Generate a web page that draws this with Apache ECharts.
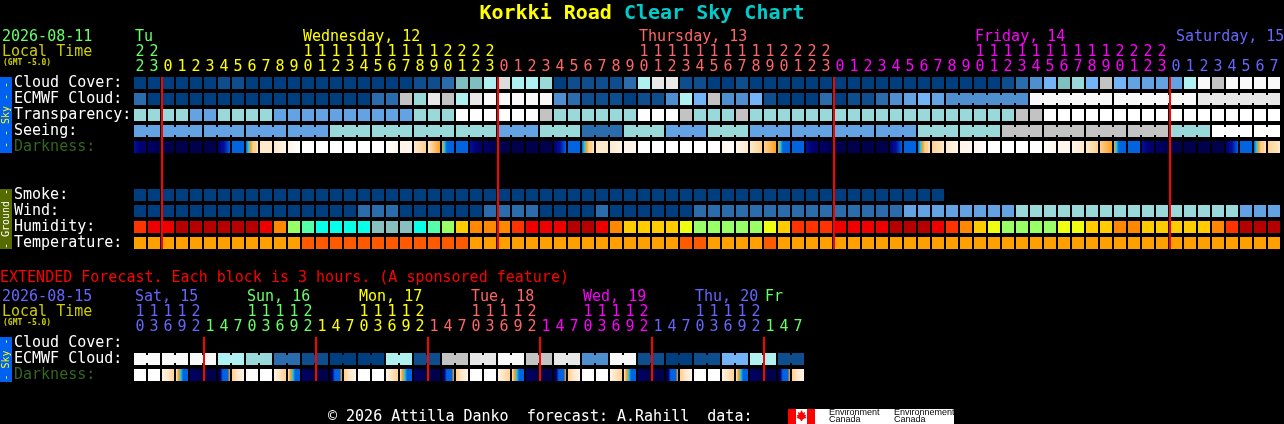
<!DOCTYPE html>
<html>
<head>
<meta charset="utf-8">
<style>html,body{margin:0;padding:0;background:#000;overflow:hidden}#chart{width:1284px;height:424px}</style>
<script src="https://cdn.jsdelivr.net/npm/echarts@6/dist/echarts.min.js"></script>
</head>
<body>
<div id="chart"></div>
<script>
// ---------- data ----------
const hours = [22,23,
 0,1,2,3,4,5,6,7,8,9,10,11,12,13,14,15,16,17,18,19,20,21,22,23,
 0,1,2,3,4,5,6,7,8,9,10,11,12,13,14,15,16,17,18,19,20,21,22,23,
 0,1,2,3,4,5,6,7,8,9,10,11,12,13,14,15,16,17,18,19,20,21,22,23,
 0,1,2,3,4,5,6,7];
const extHours = [10,13,16,19,22,
 1,4,7,10,13,16,19,22, 1,4,7,10,13,16,19,22, 1,4,7,10,13,16,19,22,
 1,4,7,10,13,16,19,22, 1,4,7,10,13,16,19,22, 1,4,7];
const rowNames = ['Cloud Cover:','ECMWF Cloud:','Transparency:','Seeing:','Darkness:','','','Smoke:','Wind:','Humidity:','Temperature:'];
const extRowNames = ['Cloud Cover:','ECMWF Cloud:','Darkness:'];
const dayNames = ['Tu','Wednesday, 12','Thursday, 13','Friday, 14','Saturday, 15'];
const dayCells = [0,12,36,60,74];
const extDayNames = ['Sat, 15','Sun, 16','Mon, 17','Tue, 18','Wed, 19','Thu, 20','Fr'];
const extDayCells = [0,8,16,24,32,40,45];
const midnightCells = [2,26,50,74];
const extMidnightCells = [5,13,21,29,37,45];

const cloudCover = [0,0,0,0,0,0,1,1,0,0,0,0,0,0,0,0,0,0,0,0,1,1,2,6,6,8,10,8,8,7,0,1,1,1,1,2,8,11,11,1,1,0,0,1,0,0,0,0,0,0,0,0,0,0,0,0,0,0,0,0,0,0,1,2,3,5,6,7,5,9,5,4,4,4,4,8,12,9,12,12,12,12];
const ecmwfCloud = [2,0,0,0,0,0,0,0,0,0,0,0,0,0,0,0,0,2,2,9,7,11,9,8,11,12,12,12,12,12,3,2,1,1,1,0,1,1,3,8,5,9,3,3,5,1,0,0,0,2,0,1,1,2,3,4,5,4,3,3,3,3,3,3,12,12,12,12,12,12,12,12,12,12,12,12,11,11,11,11,11,11];
const transparency = [7,7,7,7,4,4,7,7,7,7,4,4,4,4,4,4,4,4,4,4,7,7,7,13,13,13,13,13,13,9,7,7,7,7,7,7,13,13,13,9,7,7,7,9,7,7,7,7,7,7,7,7,7,7,7,7,7,7,7,7,7,7,7,9,9,13,13,13,13,13,13,13,13,13,13,13,13,13,13,13,13,13];
const seeing = [4,4,4,4,4,4,4,4,4,4,4,4,4,4,7,7,7,7,7,7,7,7,7,7,7,7,4,4,4,7,7,7,2,2,2,7,7,7,4,4,4,7,7,7,4,4,4,4,4,4,4,4,4,4,4,4,7,7,7,7,7,7,9,9,9,9,9,9,9,9,9,9,9,9,7,7,7,13,13,13,13,13];
const smoke = [0,0,0,0,0,0,0,0,0,0,0,0,0,0,0,0,0,0,0,0,0,0,0,0,0,0,0,0,0,0,0,0,0,0,0,0,0,0,0,0,0,0,0,0,0,0,0,0,0,0,0,0,0,0,0,0,0,0];
const wind = [0,0,0,0,0,0,0,0,0,0,0,0,0,0,0,0,2,2,2,0,0,0,0,0,0,2,2,2,2,0,0,0,0,2,0,0,0,0,0,0,2,2,2,2,2,2,2,2,2,2,2,2,2,2,2,4,4,4,4,4,4,4,4,7,7,7,7,7,7,7,7,7,7,7,7,7,7,7,7,4,4,4];
const humidity = [2,1,1,0,0,0,0,0,0,1,3,6,7,8,8,8,8,9,9,9,8,7,6,4,3,3,3,2,1,1,1,0,0,1,3,4,4,4,4,5,6,6,6,6,6,5,4,2,2,2,1,1,1,1,0,0,0,1,2,3,4,5,6,6,6,6,5,5,4,4,3,3,4,4,4,4,4,3,2,0,0,0];
const temperature = [0,0,0,0,0,0,0,0,0,0,0,0,1,1,1,1,1,1,1,1,1,1,1,1,0,0,0,0,0,0,0,0,0,0,0,0,0,0,0,1,1,0,0,0,0,1,0,0,0,0,0,0,0,0,0,0,0,0,0,0,0,0,0,0,0,0,0,0,0,0,0,0,0,0,0,0,0,0,0,0,0,0];
const darkness = [[2,1,1],[1,0],[0],[0],[0],[0],[1,2,3],[3],[3,4,5,6,6,7],[7],[7,8],[8,9],
 [9],[9],[9],[9],[9],[9],[9,8],[8],[7,6],[7,5],[5,4,3,3,3,3],[3],
 [2,1,1],[1,0],[0],[0],[0],[0],[1,2,3],[3],[3,4,5,6,6,7],[7],[7,8],[8],
 [9],[9],[9],[9],[9],[9],[8,9],[8,7],[7,6],[6,5],[5,4,3,3,3,3],[3],
 [2,1,1],[1,0],[0],[0],[0],[0],[1,2,3],[3],[3,4,5,6,6,7],[6,7],[7,8],[8],[8,9],
 [9],[9],[9],[9],[9,8],[8],[8,7],[7,6],[6,5],[5,4,3,3,3,3],[3],
 [2,1,1],[1,0],[0],[0],[0],[0],[1,2,3],[3],[3,4,5,6,6,7],[6,7]];
const extEcmwf = [12,12,12,12,12,12,8,8,7,7,2,2,1,1,0,0,0,0,8,8,1,1,9,9,11,11,12,12,9,9,11,11,3,3,12,12,1,1,0,0,1,1,5,5,8,8,1,1];
const extDarkness = [[9],[9],[8,7,6],[7,5,4,3,3,3],[1,0],[0],[0,1,3,3,3,5],[6,7,8],
 [9],[9],[8,6],[7,5,4,3,3,3],[1,0],[0],[0,1,3,3,3,5],[6,7,8],
 [9],[9],[8,6],[7,5,4,3,3,3],[1,0],[0],[0,1,3,3,3,5],[6,7,8],
 [9],[9],[8,6],[7,5,4,3,3,3],[1,0],[0],[0,1,3,3,3,5],[6,7,8],
 [9],[9],[8,6],[7,5,4,3,3,3],[1,0],[0],[0,1,3,3,3,5],[6,7,8],
 [9],[9],[8,6],[7,5,4,3,3,3],[1,0],[0],[0,1,3,3,3,5],[6,7,8]];
// run lengths of cells merged into one forecast block
const seeingBlocks = [2,3,3,3,3,3,3,3,3,3,3,3,3,3,3,3,3,3,3,3,3,3,3,3,3,3,3,2];
const ecmwfBlocks = [1,1,1,1,1,1,1,1,1,1,1,1,1,1,1,1,1,1,1,1,1,1,1,1,1,1,1,1,1,1,1,1,1,1,1,1,1,1,1,1,1,1,1,1,1,1,1,1,1,1,1,1,1,1,1,1,1,1,6,6,6,6];
const extBlocks = [2,2,2,2,2,2,2,2,2,2,2,2,2,2,2,2,2,2,2,2,2,2,2,2];

// ---------- styles ----------
const skyPalette = ['#003f7f','#0f4e8e','#2b6cad','#4f8fcf','#63a3e3','#73b3f7','#80bfbf','#99d9d9','#aff0f0','#c3c3c3','#dcdcdc','#e8e8e8','#f9f9f9','#ffffff'];
const humidityPalette = ['#b40000','#ee0000','#ff3300','#ff8800','#ffcc00','#eeff11','#99ff66','#55ffaa','#08ffe8','#88c0c0'];
const temperaturePalette = ['#ffa000','#ff5a00'];
const darknessPalette = ['#00004c','#000070','#0010a0','#0064e0','#20c8e0','#ffa020','#ffd090','#ffe8cc','#fff5ea','#ffffff'];
const dayColors = ['#66ff66','#ffff00','#ff6666','#ff00ff','#6666ff'];
const extDayColors = ['#6666ff','#66ff66','#ffff00','#ff6666','#ff00ff','#6666ff','#66ff66'];
const MONO = '"DejaVu Sans Mono"';
const CELL = 12, CONNECT = 8;

function hourDayColors(hs, list){ let d = 0; return hs.map((h,i)=>{ if(i>0 && h < hs[i-1]) d++; return list[d]; }); }
const mainColors = hourDayColors(hours, dayColors);
const extColors = hourDayColors(extHours, extDayColors);
function joinsFrom(blocks){ const j = []; blocks.forEach(n=>{ for(let k=0;k<n;k++) j.push(k<n-1); }); return j; }

function cellSeries(name, xi, yi, row, values, palette, blocks){
  const joins = blocks ? joinsFrom(blocks) : [];
  return { type:'custom', name, xAxisIndex:xi, yAxisIndex:yi, silent:true, clip:false, animation:false,
    encode:{x:0,y:1},
    data: values.map((v,i)=>[i,row,v]),
    renderItem(p, api){
      const c = api.coord([api.value(0), api.value(1)]);
      const fill = palette[api.value(2)];
      const kids = [{type:'rect',shape:{x:c[0]-CELL/2,y:c[1]-CELL/2,width:CELL,height:CELL},style:{fill}}];
      if(joins[p.dataIndex]) kids.push({type:'rect',shape:{x:c[0]+CELL/2,y:c[1]-CONNECT/2,width:2,height:CONNECT},style:{fill}});
      return {type:'group',children:kids};
    }};
}
function darknessSeries(xi, yi, row, values){
  return { type:'custom', name:'Darkness', xAxisIndex:xi, yAxisIndex:yi, silent:true, clip:false, animation:false,
    encode:{x:0,y:1},
    data: values.map((v,i)=>[i,row]),
    renderItem(p, api){
      const c = api.coord([api.value(0), api.value(1)]);
      const levels = values[p.dataIndex];
      const fill = levels.length === 1 ? darknessPalette[levels[0]] :
        new echarts.graphic.LinearGradient(0,0,1,0,levels.map((l,k)=>({offset:k/(levels.length-1),color:darknessPalette[l]})));
      return {type:'rect',shape:{x:c[0]-CELL/2,y:c[1]-CELL/2,width:CELL,height:CELL},style:{fill}};
    }};
}
function midnightSeries(xi, yi, cells, lastRow){
  return { type:'custom', name:'Midnight', xAxisIndex:xi, yAxisIndex:yi, silent:true, clip:false, animation:false, z:5,
    encode:{x:0},
    data: cells.map(c=>[c]),
    renderItem(p, api){
      const top = api.coord([api.value(0),0]), bot = api.coord([api.value(0),lastRow]);
      return {type:'rect',shape:{x:top[0]-7,y:top[1]-CELL/2,width:2,height:bot[1]-top[1]+CELL},style:{fill:'#ff0000'}};
    }};
}
function daySeries(xi, yi, names, cells, colors){
  return { type:'custom', name:'Days', xAxisIndex:xi, yAxisIndex:yi, silent:true, clip:false, animation:false,
    encode:{x:0},
    data: cells.map(c=>[c]),
    renderItem(p, api){
      const c = api.coord([api.value(0),0]);
      const t = names[p.dataIndex];
      let x = c[0]-5;
      if(xi === 0 && p.dataIndex === names.length-1) x = 1284 - t.length*9;
      return {type:'text',style:{text:t,x,y:c[1]-46,fill:colors[p.dataIndex],font:'15px '+MONO,textAlign:'left',textVerticalAlign:'middle'}};
    }};
}
function hourAxis(grid, labels, colors, offset){
  return { type:'category', gridIndex:grid, position:'top', offset, data:labels,
    axisLine:{show:false}, axisTick:{show:false}, splitLine:{show:false},
    axisLabel:{show:true, interval:0, hideOverlap:false, margin:0, verticalAlign:'bottom', fontFamily:MONO, fontSize:15,
      color:(v,i)=>colors[i]}};
}
function rowAxis(grid, names){
  return { type:'category', gridIndex:grid, inverse:true, data:names,
    axisLine:{show:false}, axisTick:{show:false}, splitLine:{show:false},
    axisLabel:{show:true, interval:0, align:'left', margin:119, padding:[0,0,4,0], fontFamily:MONO, fontSize:15,
      color:(v)=> v==='Darkness:' ? '#336622' : '#ffffff'}};
}
const units = hs => hs.map(h=>String(h%10));
const tens = hs => hs.map(h=> h>=10 ? String(Math.floor(h/10)) : '');
function txt(text,x,y,fill,font){ return {type:'text',silent:true,x,y,style:{text,fill,font:font||('15px '+MONO),textAlign:'left',textVerticalAlign:'middle'}}; }
function bar(y,h,fill,label,color){
  return [{type:'rect',silent:true,shape:{x:0,y,width:12,height:h},style:{fill}},
    {type:'text',silent:true,x:6,y:y+h/2,rotation:Math.PI/2,style:{text:label,fill:color,font:'10px '+MONO,textAlign:'center',textVerticalAlign:'middle'}}];
}
const chart = echarts.init(document.getElementById('chart'),null,{renderer:'canvas'});
chart.setOption({
  backgroundColor:'#000000', animation:false,
  title:{left:'center',top:0,padding:[0,0,0,0],text:'{a|Korkki Road} {b|Clear Sky Chart}',
    textStyle:{fontFamily:'"DejaVu Sans Mono"',fontSize:20,fontWeight:'bold',color:'#000',
      rich:{a:{color:'#ffff00',fontFamily:'"DejaVu Sans Mono"',fontSize:20,fontWeight:'bold',padding:[4,0,0,0]},
            b:{color:'#00cccc',fontFamily:'"DejaVu Sans Mono"',fontSize:20,fontWeight:'bold',padding:[4,0,0,0]}}}},
  grid:[{left:133,top:75,width:1148,height:176},{left:133,top:335,width:672,height:48}],
  xAxis:[hourAxis(0,units(hours),mainColors,0),hourAxis(0,tens(hours),mainColors,15),
         hourAxis(1,units(extHours),extColors,0),hourAxis(1,tens(extHours),extColors,15)],
  yAxis:[rowAxis(0,rowNames),rowAxis(1,extRowNames)],
  series:[
    cellSeries('Cloud Cover',0,0,0,cloudCover,skyPalette),
    cellSeries('ECMWF Cloud',0,0,1,ecmwfCloud,skyPalette,ecmwfBlocks),
    cellSeries('Transparency',0,0,2,transparency,skyPalette),
    cellSeries('Seeing',0,0,3,seeing,skyPalette,seeingBlocks),
    darknessSeries(0,0,4,darkness),
    cellSeries('Smoke',0,0,7,smoke,skyPalette),
    cellSeries('Wind',0,0,8,wind,skyPalette),
    cellSeries('Humidity',0,0,9,humidity,humidityPalette),
    cellSeries('Temperature',0,0,10,temperature,temperaturePalette),
    midnightSeries(0,0,midnightCells,10),
    daySeries(0,0,dayNames,dayCells,dayColors),
    cellSeries('ECMWF Cloud',2,1,1,extEcmwf,skyPalette,extBlocks),
    darknessSeries(2,1,2,extDarkness),
    midnightSeries(2,1,extMidnightCells,2),
    daySeries(2,1,extDayNames,extDayCells,extDayColors)
  ],
  graphic:[
    txt('2026-08-11',2,37,'#66ff66'),
    txt('Local Time',2,52,'#cccc00'),
    txt('(GMT -5.0)',3,63,'#cccc00','bold 8px '+MONO),
    txt('EXTENDED Forecast. Each block is 3 hours. (A sponsored feature)',0,278,'#ff0000'),
    txt('2026-08-15',2,297,'#6666ff'),
    txt('Local Time',2,312,'#cccc00'),
    txt('(GMT -5.0)',3,323,'#cccc00','bold 8px '+MONO),
    ...bar(77,76,'#0060f0','- - Sky - -','#ffff00'),
    ...bar(189,60,'#556b00','- Ground -','#ffffff'),
    ...bar(337,45,'#0060f0','- Sky -','#ffff00'),
    txt('\u00a9 2026 Attilla Danko  forecast: A.Rahill  data:',328,417,'#ffffff'),
    {type:'rect',silent:true,shape:{x:788,y:409,width:166,height:15},style:{fill:'#ffffff'}},
    {type:'rect',silent:true,shape:{x:788,y:409,width:8,height:15},style:{fill:'#ff0000'}},
    {type:'rect',silent:true,shape:{x:807,y:409,width:8,height:15},style:{fill:'#ff0000'}},
    {type:'polygon',silent:true,shape:{points:[[801.5,410],[803,413],[805,412],[804.5,415],[806,415],[805.5,417],[806.5,418],[803,419],[802,421],[801,421],[800,419],[796.5,418],[797.5,417],[797,415],[798.5,415],[798,412],[800,413]]},style:{fill:'#ff0000'}},
    txt('Environment',829,413,'#000000','9px "Liberation Sans"'),
    txt('Canada',829,420,'#000000','9px "Liberation Sans"'),
    txt('Environnement',894,413,'#000000','9px "Liberation Sans"'),
    txt('Canada',894,420,'#000000','9px "Liberation Sans"')
  ]
});
</script>
</body>
</html>
